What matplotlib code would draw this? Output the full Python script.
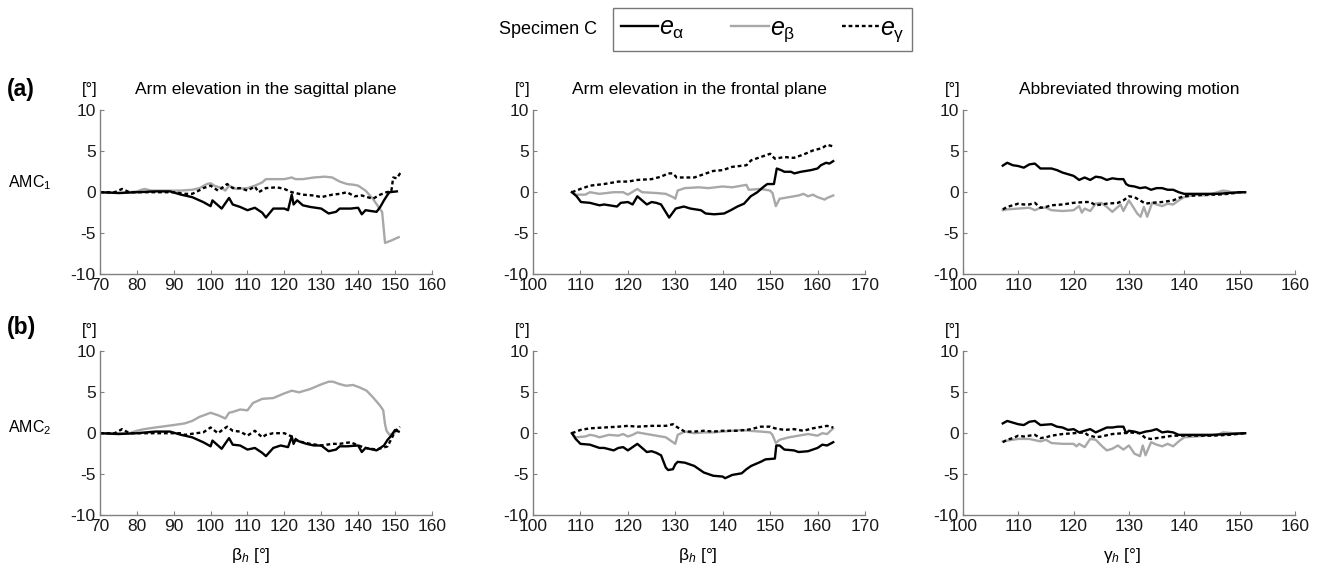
import numpy as np
import matplotlib
matplotlib.use('Agg')
import matplotlib.pyplot as plt
from matplotlib.lines import Line2D

plt.rcParams['font.family'] = ['Liberation Sans', 'DejaVu Sans']
plt.rcParams['mathtext.fontset'] = 'custom'
plt.rcParams['mathtext.rm'] = 'Liberation Sans'
plt.rcParams['mathtext.it'] = 'Liberation Sans:italic'
plt.rcParams['axes.unicode_minus'] = False

# ---- data ----
# (a) row, AMC1 -- sagittal plane
a1_alpha_x = [70, 75, 80, 85, 89, 92, 95, 98, 100, 100.5, 102, 103, 105, 106, 108, 110, 112, 114, 115, 117,
              120, 121, 122, 122.5, 123.5, 125, 127, 130, 132, 134, 135, 138, 140, 141, 142, 145, 146, 147, 148, 148.5, 150.5]
a1_alpha_y = [0, -0.1, 0, 0.1, 0.1, -0.3, -0.6, -1.2, -1.7, -1.0, -1.6, -2.0, -0.7, -1.5, -1.8, -2.2, -1.9, -2.5, -3.1, -2.0,
              -2.0, -2.2, -0.3, -1.5, -1.0, -1.6, -1.8, -2.0, -2.6, -2.4, -2.0, -2.0, -1.9, -2.7, -2.2, -2.4, -1.8, -1.0, -0.3, 0.0, 0.1]
a1_beta_x = [70, 76, 80, 82, 84, 88, 92, 95, 97, 99, 100, 101, 103, 104, 105, 107, 110, 112, 114, 115,
             118, 120, 122, 123, 125, 128, 131, 133, 135, 137, 139, 140, 142, 144, 145.5, 146.5, 147.3, 149, 151]
a1_beta_y = [0, -0.1, 0.1, 0.4, 0.2, 0.2, 0.2, 0.3, 0.5, 1.0, 1.1, 0.8, 0.5, 0.2, 0.8, 0.4, 0.5, 0.8, 1.2, 1.6,
             1.6, 1.6, 1.8, 1.6, 1.6, 1.8, 1.9, 1.8, 1.3, 1.0, 0.9, 0.8, 0.2, -0.8, -1.8, -2.4, -6.2, -5.9, -5.5]
a1_gamma_x = [70, 74, 76, 78, 85, 90, 93, 95, 96, 98, 100, 102, 103, 104.5, 106, 108, 110, 112, 113, 115,
              118, 120, 122, 125, 128, 130, 133, 135, 137, 139, 141, 144, 146, 147.7, 149, 149.5, 150.5, 151.5]
a1_gamma_y = [0, 0, 0.4, 0, 0, 0, -0.2, -0.2, 0, 0.5, 0.8, 0.2, 0.5, 1.0, 0.5, 0.5, 0.2, 0.7, 0, 0.5,
              0.6, 0.4, 0, -0.3, -0.4, -0.6, -0.3, -0.2, 0, -0.5, -0.4, -0.8, -0.3, 0, 0.1, 1.8, 1.7, 2.4]

# (a) row -- frontal plane
a2_alpha_x = [108.2, 109.2, 110.1, 112, 114, 115, 117.7, 118.5, 120, 121, 122, 123, 124, 125, 126, 127, 128.7, 130.1, 131.8, 133.2,
              135.4, 136.4, 138.2, 140.3, 141.7, 143.1, 144.5, 145.9, 147.3, 148.7, 149.4, 150.8, 151.4, 152.3, 153, 154.4,
              155.1, 156.5, 158.6, 160, 160.7, 161.8, 162.5, 163.3]
a2_alpha_y = [0, -0.5, -1.2, -1.3, -1.6, -1.5, -1.75, -1.3, -1.2, -1.5, -0.5, -1.0, -1.5, -1.2, -1.3, -1.5, -3.1, -2.0, -1.75, -2.0,
              -2.2, -2.6, -2.7, -2.6, -2.2, -1.75, -1.4, -0.5, 0, 0.7, 1.0, 1.0, 2.9, 2.7, 2.5, 2.5,
              2.3, 2.5, 2.7, 2.9, 3.3, 3.6, 3.5, 3.8]
a2_beta_x = [108.2, 109, 111, 112, 114, 117, 119, 120, 122, 123, 126, 128, 129.5, 130, 130.5, 132, 135, 137, 140, 142,
             144, 145, 145.5, 148, 150, 150.5, 151.2, 152, 154, 156, 157, 158, 159, 160, 161.5, 162, 163.3]
a2_beta_y = [0, -0.3, -0.3, 0, -0.2, 0, 0, -0.3, 0.4, 0, -0.1, -0.2, -0.6, -0.8, 0.2, 0.5, 0.6, 0.5, 0.7, 0.6,
             0.8, 0.9, 0.3, 0.4, 0.2, -0.1, -1.7, -0.8, -0.6, -0.4, -0.2, -0.5, -0.3, -0.6, -0.9, -0.7, -0.4]
a2_gamma_x = [108.2, 110, 112, 115, 118, 120, 122, 125, 127, 128.5, 129.5, 130.3, 132, 134, 136, 138, 140, 142, 145, 146,
              148, 150, 151, 153, 155, 157, 159, 161, 162, 163.3]
a2_gamma_y = [0, 0.4, 0.8, 1.0, 1.3, 1.3, 1.5, 1.6, 1.9, 2.3, 2.3, 1.8, 1.8, 1.8, 2.2, 2.6, 2.7, 3.1, 3.3, 3.9,
              4.3, 4.7, 4.1, 4.3, 4.2, 4.6, 5.1, 5.4, 5.8, 5.6]

# (a) row -- abbreviated throwing motion
a3_alpha_x = [107.2, 108, 109, 110, 111, 112, 113, 114, 116, 117, 118, 119, 120, 121, 122, 123, 124, 125, 126, 127,
              128, 129, 129.5, 130, 131, 132, 133, 134, 135, 136, 137, 138, 139, 140, 142, 144, 146, 148, 150, 151]
a3_alpha_y = [3.25, 3.6, 3.3, 3.2, 3.0, 3.4, 3.5, 2.9, 2.9, 2.7, 2.4, 2.2, 2.0, 1.5, 1.8, 1.5, 1.9, 1.8, 1.5, 1.7,
              1.6, 1.6, 1.0, 0.8, 0.7, 0.5, 0.6, 0.3, 0.5, 0.5, 0.3, 0.3, 0.0, -0.2, -0.2, -0.2, -0.2, -0.1, 0, 0]
a3_beta_x = [107.2, 108, 110, 112, 113, 114, 115, 116, 118, 120, 121, 121.5, 122, 123, 124, 125, 126, 127, 128, 128.5,
             129, 130, 131.5, 132.1, 132.7, 133.3, 134.2, 135, 136, 137, 138, 139, 140, 142, 144, 146, 147, 148, 149, 151]
a3_beta_y = [-2.2, -2.1, -2.0, -1.9, -2.2, -1.9, -1.9, -2.2, -2.3, -2.2, -1.7, -2.5, -2.0, -2.3, -1.4, -1.3, -1.8, -2.4, -1.8, -1.5,
             -2.3, -1.0, -2.6, -3.0, -1.8, -3.0, -1.3, -1.5, -1.7, -1.4, -1.5, -1.0, -0.6, -0.3, -0.4, 0, 0.2, 0.1, -0.1, 0]
a3_gamma_x = [107.2, 108, 109, 110, 111, 112, 113, 114, 115, 116, 118, 120, 122, 123, 124, 126, 128, 129, 130, 131,
              132, 133, 134, 136, 138, 139, 140, 142, 144, 146, 148, 150, 151]
a3_gamma_y = [-2.1, -1.8, -1.6, -1.4, -1.5, -1.5, -1.3, -1.9, -1.8, -1.6, -1.5, -1.3, -1.2, -1.2, -1.6, -1.4, -1.3, -1.0, -0.5, -0.6,
              -1.0, -1.4, -1.3, -1.2, -1.0, -0.7, -0.5, -0.4, -0.3, -0.3, -0.2, 0, 0]

# (b) row, AMC2 -- sagittal plane
b1_alpha_x = [70, 75, 80, 85, 89, 92, 95, 98, 100, 100.5, 102, 103, 105, 106, 108, 110, 112, 114, 115, 117,
              119, 121, 122, 122.5, 123, 124, 126, 128, 130, 132, 134, 135, 137, 140, 141, 142, 145, 147, 148, 149, 150, 151]
b1_alpha_y = [0, -0.1, 0, 0.2, 0.2, -0.2, -0.5, -1.1, -1.6, -0.9, -1.5, -1.9, -0.6, -1.4, -1.5, -2.0, -1.8, -2.4, -2.8, -1.8,
              -1.5, -1.7, -0.4, -1.3, -0.8, -1.0, -1.3, -1.5, -1.5, -2.2, -2.0, -1.6, -1.6, -1.5, -2.3, -1.8, -2.1, -1.5, -0.8, -0.3, 0.4, 0.2]
b1_beta_x = [70, 78, 80, 82, 85, 90, 93, 95, 97, 100, 102, 104, 105, 106, 108, 110, 111.5, 114, 117, 119.6,
             122, 124, 127, 129.6, 132, 133.2, 135, 136.8, 138.6, 140.4, 142.3, 144, 145.9, 146.8, 147.3, 147.7, 148.5, 150]
b1_beta_y = [0, 0, 0.3, 0.5, 0.7, 1.0, 1.2, 1.5, 2.0, 2.5, 2.2, 1.8, 2.5, 2.6, 2.9, 2.8, 3.7, 4.2, 4.3, 4.8,
             5.2, 5.0, 5.4, 5.9, 6.3, 6.3, 6.0, 5.8, 5.9, 5.6, 5.2, 4.4, 3.4, 2.8, 1.1, 0.3, -0.2, 0.1]
b1_gamma_x = [70, 74, 76, 78, 85, 92, 93, 96, 98, 100, 102, 103.5, 104.5, 106, 108, 110, 111, 112, 114, 115,
              117, 120, 122, 124, 127, 130, 133, 135, 138, 140, 142, 145, 148, 150, 151.3]
b1_gamma_y = [0, 0, 0.5, 0, 0, 0, -0.2, 0, 0.1, 0.7, 0, 0.5, 0.8, 0.3, 0.2, -0.3, 0, 0.3, -0.5, -0.2,
              0, 0, -0.4, -1.0, -1.3, -1.5, -1.3, -1.3, -1.1, -1.5, -1.8, -2.0, -1.6, 0.2, 0.8]

# (b) row -- frontal plane
b2_alpha_x = [108.2, 109, 110, 112, 114, 115, 117, 118, 119, 120, 121, 122, 123, 124, 125, 126, 127, 128, 128.5, 129.5,
              130, 130.5, 132, 134, 136, 137, 138, 140, 140.5, 142, 144, 145, 146, 148, 149, 151, 151.3, 152, 153, 155,
              156, 158, 160, 161, 162, 163.3]
b2_alpha_y = [0, -0.7, -1.3, -1.4, -1.8, -1.8, -2.1, -1.8, -1.7, -2.1, -1.7, -1.3, -1.8, -2.3, -2.2, -2.4, -2.7, -4.2, -4.5, -4.4,
              -3.8, -3.5, -3.6, -4.0, -4.8, -5.0, -5.2, -5.3, -5.5, -5.1, -4.9, -4.4, -4.0, -3.5, -3.2, -3.1, -1.5, -1.5, -2.0, -2.1,
              -2.3, -2.2, -1.8, -1.4, -1.5, -1.1]
b2_beta_x = [108.2, 109, 111, 112, 113, 114, 116, 118, 119, 120, 121, 122, 124, 126, 128, 129.5, 130, 130.5, 132, 134,
             136, 138, 140, 142, 144, 145.5, 148, 150, 150.5, 151.2, 152, 154, 156, 158, 160, 161, 162, 163.3]
b2_beta_y = [0, -0.5, -0.4, -0.2, -0.3, -0.5, -0.2, -0.3, -0.1, -0.4, -0.2, 0.1, -0.1, -0.3, -0.5, -1.1, -1.3, -0.2, 0.2, 0,
             0.1, 0.1, 0.2, 0.3, 0.4, 0.3, 0.2, 0.1, -0.2, -1.2, -0.8, -0.5, -0.3, -0.1, -0.3, 0, -0.1, 0.6]
b2_gamma_x = [108.2, 110, 112, 115, 118, 120, 122, 125, 128, 129.5, 130.5, 132, 134, 136, 138, 140, 143, 145, 146, 148,
              150, 151, 153, 155, 157, 159, 161, 162, 163.3]
b2_gamma_y = [0, 0.4, 0.6, 0.7, 0.8, 0.9, 0.8, 0.9, 0.9, 1.1, 0.7, 0.2, 0.2, 0.3, 0.2, 0.3, 0.3, 0.4, 0.5, 0.8,
              0.8, 0.6, 0.4, 0.5, 0.3, 0.6, 0.8, 0.9, 0.7]

# (b) row -- abbreviated throwing motion
b3_alpha_x = [107.2, 108, 109, 110, 111, 112, 113, 114, 116, 117, 118, 119, 120, 121, 122, 123, 124, 125, 126, 127,
              128, 129, 129.5, 130, 131, 132, 133, 134, 135, 136, 137, 138, 139, 140, 142, 145, 148, 151]
b3_alpha_y = [1.2, 1.5, 1.3, 1.1, 1.0, 1.4, 1.5, 1.0, 1.1, 0.8, 0.7, 0.4, 0.5, 0.1, 0.3, 0.5, 0.1, 0.4, 0.7, 0.7,
              0.8, 0.8, 0, 0.3, 0.2, 0.0, 0.2, 0.3, 0.5, 0.1, 0.2, 0.1, -0.2, -0.2, -0.2, -0.2, -0.1, 0]
b3_beta_x = [107.2, 108, 110, 112, 114, 115, 116, 118, 120, 120.5, 121, 122, 123, 124, 125, 126, 127, 128, 129, 130,
             131, 132, 132.5, 133, 134, 135, 136, 137, 138, 139, 140, 142, 144, 146, 147, 149, 151]
b3_beta_y = [-1.0, -0.9, -0.7, -0.7, -1.0, -0.8, -1.2, -1.3, -1.3, -1.6, -1.3, -1.7, -0.7, -0.8, -1.5, -2.1, -1.9, -1.5, -2.0, -1.5,
             -2.5, -2.8, -1.5, -2.7, -1.1, -1.4, -1.6, -1.3, -1.6, -1.0, -0.5, -0.4, -0.3, -0.2, 0.1, 0, 0]
b3_gamma_x = [107.2, 108, 109, 110, 111, 112, 113, 114, 115, 116, 118, 120, 122, 122.5, 123, 124, 125, 127, 129, 130,
              132, 133, 134, 136, 138, 140, 142, 145, 148, 151]
b3_gamma_y = [-1.1, -0.8, -0.6, -0.3, -0.4, -0.3, -0.2, -0.6, -0.5, -0.3, -0.1, 0, 0.1, -0.2, -0.3, -0.5, -0.4, -0.1, 0, 0.1,
              0, -0.6, -0.7, -0.5, -0.3, -0.3, -0.3, -0.3, -0.2, 0]

titles = ['Arm elevation in the sagittal plane', 'Arm elevation in the frontal plane', 'Abbreviated throwing motion']
xlims = [(70, 160), (100, 170), (100, 160)]
xticks = [np.arange(70, 161, 10), np.arange(100, 171, 10), np.arange(100, 161, 10)]
yticks = [-10, -5, 0, 5, 10]
xlabels = [r'$\mathrm{\beta}_{h}$ [°]', r'$\mathrm{\beta}_{h}$ [°]', r'$\mathrm{\gamma}_{h}$ [°]']

panels = [
    [(a1_alpha_x, a1_alpha_y, a1_beta_x, a1_beta_y, a1_gamma_x, a1_gamma_y),
     (a2_alpha_x, a2_alpha_y, a2_beta_x, a2_beta_y, a2_gamma_x, a2_gamma_y),
     (a3_alpha_x, a3_alpha_y, a3_beta_x, a3_beta_y, a3_gamma_x, a3_gamma_y)],
    [(b1_alpha_x, b1_alpha_y, b1_beta_x, b1_beta_y, b1_gamma_x, b1_gamma_y),
     (b2_alpha_x, b2_alpha_y, b2_beta_x, b2_beta_y, b2_gamma_x, b2_gamma_y),
     (b3_alpha_x, b3_alpha_y, b3_beta_x, b3_beta_y, b3_gamma_x, b3_gamma_y)],
]

GRAY = '#a8a8a8'
SPINE = '#808080'
DOT = (0, (1.6, 1.2))

fig = plt.figure(figsize=(13.22, 5.73), dpi=100)

lefts = [0.0756, 0.4032, 0.7284]
bottoms = [0.5218, 0.1012]
w, h = 0.2511, 0.2855

for r in range(2):
    for c in range(3):
        ax = fig.add_axes([lefts[c], bottoms[r], w, h])
        ax_x, ax_y, bx, by, gx, gy = panels[r][c]
        ax.plot(bx, by, color=GRAY, lw=1.7)
        ax.plot(ax_x, ax_y, color='black', lw=1.7)
        ax.plot(gx, gy, color='black', lw=1.7, linestyle=DOT)
        ax.set_xlim(*xlims[c])
        ax.set_ylim(-10, 10)
        ax.set_xticks(xticks[c])
        ax.set_yticks(yticks)
        for s in ['top', 'right']:
            ax.spines[s].set_visible(False)
        for s in ['left', 'bottom']:
            ax.spines[s].set_color(SPINE)
            ax.spines[s].set_linewidth(1.0)
        ax.tick_params(direction='in', length=3, color=SPINE, labelsize=12.5, labelcolor='#1a1a1a')
        ax.tick_params(axis='x', pad=3)
        ax.tick_params(axis='y', pad=3)
        ax.text(-0.03, 1.13, '[°]', transform=ax.transAxes, ha='center', va='center', fontsize=12)
        if r == 0:
            ax.text(0.5, 1.13, titles[c], transform=ax.transAxes, ha='center', va='center', fontsize=12.5)
        else:
            xl_pos = [0.455, 0.495, 0.48][c]
            ax.text(xl_pos, -0.245, xlabels[c], transform=ax.transAxes, ha='center', va='center', fontsize=12.5)

fig.text(0.005, 0.843, '(a)', fontsize=16.5, fontweight='bold', ha='left', va='center')
fig.text(0.005, 0.429, '(b)', fontsize=16.5, fontweight='bold', ha='left', va='center')
fig.text(0.006, 0.682, r'AMC$_\mathregular{1}$', fontsize=11.5, ha='left', va='center')
fig.text(0.006, 0.253, r'AMC$_\mathregular{2}$', fontsize=11.5, ha='left', va='center')
fig.text(0.4145, 0.948, 'Specimen C', fontsize=13, ha='center', va='center')

handles = [Line2D([], [], color='black', lw=1.7),
           Line2D([], [], color=GRAY, lw=1.7),
           Line2D([], [], color='black', lw=1.7, linestyle=DOT)]
labels = [r'$e_{\mathregular{\alpha}}$', r'$e_{\mathregular{\beta}}$', r'$e_{\mathregular{\gamma}}$']
leg = fig.legend(handles, labels, loc='center', bbox_to_anchor=(0.577, 0.9485), ncol=3,
                 frameon=True, fancybox=False, edgecolor='#555555', fontsize=18,
                 handlelength=1.5, handletextpad=0.05, columnspacing=1.85,
                 borderpad=0.3, borderaxespad=0)
leg.get_frame().set_linewidth(1.0)

plt.savefig('out.png', dpi=100)
